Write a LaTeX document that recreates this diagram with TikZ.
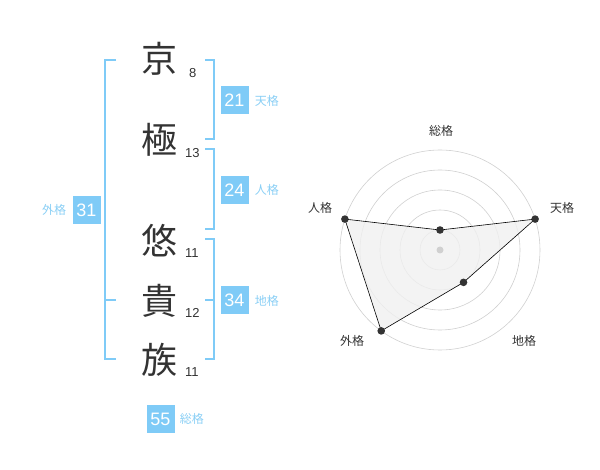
\documentclass[tikz,border=0pt]{standalone}
\usepackage{fontspec}
\setmainfont{Liberation Sans}
\newfontfamily\cjk{Noto Sans CJK JP}
\definecolor{kakublue}{HTML}{7FCBF7}
\definecolor{kakutext}{HTML}{8ACFF5}
\definecolor{inkgray}{HTML}{333333}
\definecolor{ringgray}{HTML}{D0D0D0}
\definecolor{areagray}{HTML}{F0F0F0}
\tikzset{
    kanji/.style={inner sep=0pt,text=inkgray,font=\cjk\fontsize{36}{36}\selectfont},
    strokes/.style={inner sep=0pt,anchor=west,text=inkgray,font=\fontsize{13}{13}\selectfont},
    kakubox/.style={fill=kakublue,text=white,minimum size=28pt,inner sep=0pt,font=\fontsize{18}{18}\selectfont},
    kakulabel/.style={inner sep=0pt,text=kakutext,font=\cjk\fontsize{12}{12}\selectfont},
    bracket/.style={draw=kakublue,line width=1.6pt},
    axislabel/.style={inner sep=0pt,text=inkgray,font=\cjk\fontsize{12}{12}\selectfont}
}
\begin{document}
\begin{tikzpicture}[x=1pt,y=-1pt]
    \useasboundingbox (0,0) rectangle (600,470);
    % name
    \node[kanji] (c1) at (159,59) {京};
    \node[kanji] (c2) at (159,140) {極};
    \node[kanji] (c3) at (159,241) {悠};
    \node[kanji] (c4) at (159,301) {貴};
    \node[kanji] (c5) at (159,360) {族};
    \node[strokes] (s1) at (189,73) {8};
    \node[strokes] (s2) at (185,153) {13};
    \node[strokes] (s3) at (185,253) {11};
    \node[strokes] (s4) at (185,313) {12};
    \node[strokes] (s5) at (185,372) {11};
    % brackets
    \draw[bracket] (116,60) -- (105,60) -- (105,359) -- (116,359);
    \draw[bracket] (105,300) -- (116,300);
    \draw[bracket] (205,60) -- (214,60) -- (214,139) -- (205,139);
    \draw[bracket] (205,149) -- (214,149) -- (214,229) -- (205,229);
    \draw[bracket] (205,239) -- (214,239) -- (214,359) -- (205,359);
    \draw[bracket] (205,300) -- (214,300);
    % values
    \node[kakubox] (ten) at (234.5,100.5) {21};
    \node[kakulabel,anchor=west] at ([xshift=6pt]ten.east) {天格};
    \node[kakubox] (jin) at (234.5,190) {24};
    \node[kakulabel,anchor=west] at ([xshift=6pt]jin.east) {人格};
    \node[kakubox] (chi) at (234.5,300.5) {34};
    \node[kakulabel,anchor=west] at ([xshift=6pt]chi.east) {地格};
    \node[kakubox] (gai) at (86.5,210) {31};
    \node[kakulabel,anchor=east] at ([xshift=-6pt]gai.west) {外格};
    \node[kakubox] (sou) at (160.5,419) {55};
    \node[kakulabel,anchor=west] at ([xshift=5pt]sou.east) {総格};
    % radar
    \coordinate (o) at (440,250);
    \foreach \r in {20,40,60,80,100}{
        \draw[ringgray,line width=0.6pt] (o) circle[radius=\r];
    }
    \path (o) ++(0,-20) coordinate (p1);
    \path (o) ++(-18:100) coordinate (p2);
    \path (o) ++(54:40) coordinate (p3);
    \path (o) ++(126:100) coordinate (p4);
    \path (o) ++(198:100) coordinate (p5);
    \filldraw[fill=areagray,fill opacity=0.8,draw=black,line width=0.6pt] (p1) -- (p2) -- (p3) -- (p4) -- (p5) -- cycle;
    \fill[ringgray] (o) circle[radius=3.5];
    \foreach \p in {p1,p2,p3,p4,p5}{
        \fill[inkgray] (\p) circle[radius=3.8];
    }
    \node[axislabel] (l1) at (441,131) {総格};
    \node[axislabel] (l2) at (562,208) {天格};
    \node[axislabel] (l3) at (524,341) {地格};
    \node[axislabel] (l4) at (352,341) {外格};
    \node[axislabel] (l5) at (320,208) {人格};
\end{tikzpicture}
\end{document}
